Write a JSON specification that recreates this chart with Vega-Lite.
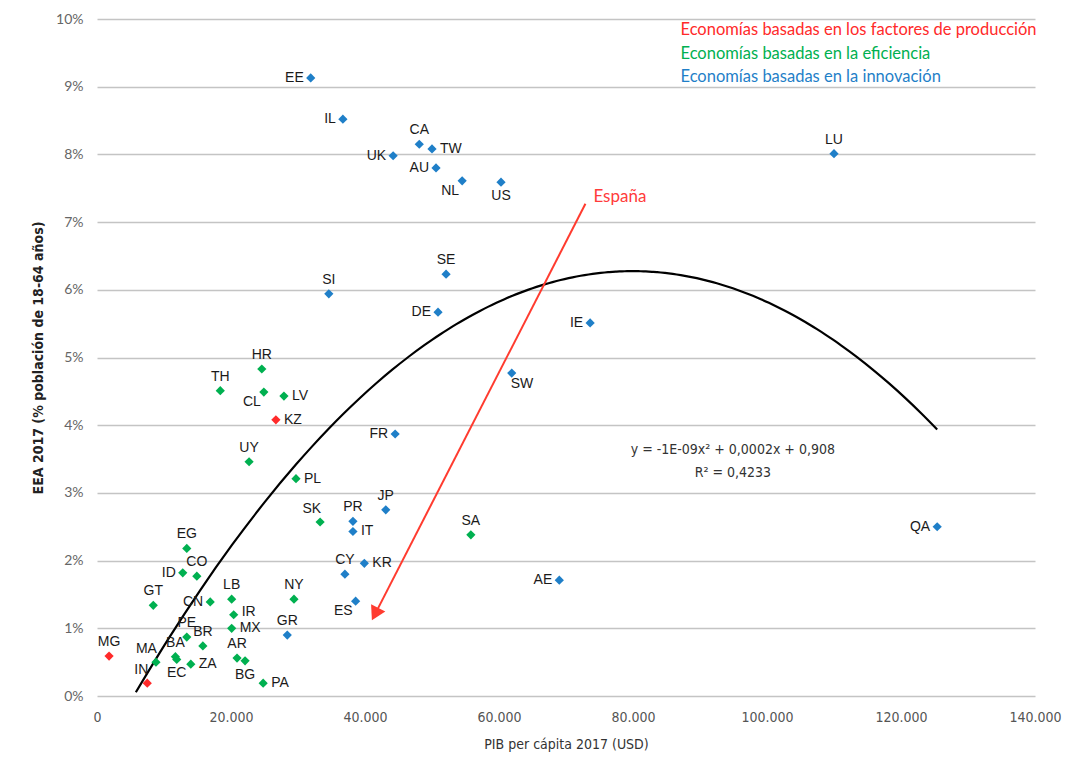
{
  "$schema": "https://vega.github.io/schema/vega-lite/v6.json",
  "width": 938,
  "height": 677,
  "autosize": {"type": "none"},
  "padding": {"left": 97, "top": 19, "right": 45, "bottom": 67},
  "background": "white",
  "config": {"view": {"stroke": null}},
  "datasets": {
    "paises": [
      {"c": "EE", "g": "Economías basadas en la innovación", "pib": 31900, "eea": 9.13, "pos": "l"},
      {"c": "IL", "g": "Economías basadas en la innovación", "pib": 36700, "eea": 8.52, "pos": "l"},
      {"c": "CA", "g": "Economías basadas en la innovación", "pib": 48100, "eea": 8.15, "pos": "t"},
      {"c": "TW", "g": "Economías basadas en la innovación", "pib": 50000, "eea": 8.08, "pos": "r"},
      {"c": "UK", "g": "Economías basadas en la innovación", "pib": 44200, "eea": 7.98, "pos": "l"},
      {"c": "AU", "g": "Economías basadas en la innovación", "pib": 50600, "eea": 7.80, "pos": "l"},
      {"c": "NL", "g": "Economías basadas en la innovación", "pib": 54500, "eea": 7.61, "pos": "bl"},
      {"c": "US", "g": "Economías basadas en la innovación", "pib": 60300, "eea": 7.59, "pos": "b"},
      {"c": "LU", "g": "Economías basadas en la innovación", "pib": 110000, "eea": 8.01, "pos": "t"},
      {"c": "SE", "g": "Economías basadas en la innovación", "pib": 52100, "eea": 6.23, "pos": "t"},
      {"c": "SI", "g": "Economías basadas en la innovación", "pib": 34600, "eea": 5.94, "pos": "t"},
      {"c": "DE", "g": "Economías basadas en la innovación", "pib": 50900, "eea": 5.67, "pos": "l"},
      {"c": "IE", "g": "Economías basadas en la innovación", "pib": 73600, "eea": 5.51, "pos": "l"},
      {"c": "SW", "g": "Economías basadas en la innovación", "pib": 61900, "eea": 4.77, "pos": "br"},
      {"c": "FR", "g": "Economías basadas en la innovación", "pib": 44500, "eea": 3.87, "pos": "l"},
      {"c": "JP", "g": "Economías basadas en la innovación", "pib": 43100, "eea": 2.75, "pos": "t"},
      {"c": "PR", "g": "Economías basadas en la innovación", "pib": 38200, "eea": 2.58, "pos": "t"},
      {"c": "IT", "g": "Economías basadas en la innovación", "pib": 38200, "eea": 2.43, "pos": "r"},
      {"c": "CY", "g": "Economías basadas en la innovación", "pib": 37000, "eea": 1.80, "pos": "t"},
      {"c": "KR", "g": "Economías basadas en la innovación", "pib": 39900, "eea": 1.96, "pos": "r"},
      {"c": "ES", "g": "Economías basadas en la innovación", "pib": 38600, "eea": 1.40, "pos": "bl"},
      {"c": "GR", "g": "Economías basadas en la innovación", "pib": 28400, "eea": 0.90, "pos": "t"},
      {"c": "AE", "g": "Economías basadas en la innovación", "pib": 69000, "eea": 1.71, "pos": "l"},
      {"c": "QA", "g": "Economías basadas en la innovación", "pib": 125400, "eea": 2.50, "pos": "l"},
      {"c": "HR", "g": "Economías basadas en la eficiencia", "pib": 24600, "eea": 4.83, "pos": "t"},
      {"c": "TH", "g": "Economías basadas en la eficiencia", "pib": 18400, "eea": 4.51, "pos": "t"},
      {"c": "CL", "g": "Economías basadas en la eficiencia", "pib": 24900, "eea": 4.49, "pos": "bl"},
      {"c": "LV", "g": "Economías basadas en la eficiencia", "pib": 27900, "eea": 4.43, "pos": "r"},
      {"c": "UY", "g": "Economías basadas en la eficiencia", "pib": 22700, "eea": 3.46, "pos": "t"},
      {"c": "PL", "g": "Economías basadas en la eficiencia", "pib": 29700, "eea": 3.21, "pos": "r"},
      {"c": "SK", "g": "Economías basadas en la eficiencia", "pib": 33300, "eea": 2.57, "pos": "tl"},
      {"c": "SA", "g": "Economías basadas en la eficiencia", "pib": 55800, "eea": 2.38, "pos": "t"},
      {"c": "EG", "g": "Economías basadas en la eficiencia", "pib": 13400, "eea": 2.18, "pos": "t"},
      {"c": "ID", "g": "Economías basadas en la eficiencia", "pib": 12800, "eea": 1.82, "pos": "l"},
      {"c": "CO", "g": "Economías basadas en la eficiencia", "pib": 14900, "eea": 1.77, "pos": "t"},
      {"c": "GT", "g": "Economías basadas en la eficiencia", "pib": 8400, "eea": 1.34, "pos": "t"},
      {"c": "CN", "g": "Economías basadas en la eficiencia", "pib": 16900, "eea": 1.39, "pos": "l"},
      {"c": "LB", "g": "Economías basadas en la eficiencia", "pib": 20100, "eea": 1.43, "pos": "t"},
      {"c": "NY", "g": "Economías basadas en la eficiencia", "pib": 29400, "eea": 1.43, "pos": "t"},
      {"c": "IR", "g": "Economías basadas en la eficiencia", "pib": 20400, "eea": 1.20, "pos": "ru"},
      {"c": "MX", "g": "Economías basadas en la eficiencia", "pib": 20100, "eea": 1.00, "pos": "r"},
      {"c": "PE", "g": "Economías basadas en la eficiencia", "pib": 13400, "eea": 0.87, "pos": "t"},
      {"c": "BR", "g": "Economías basadas en la eficiencia", "pib": 15800, "eea": 0.74, "pos": "t"},
      {"c": "MA", "g": "Economías basadas en la eficiencia", "pib": 8800, "eea": 0.50, "pos": "tl"},
      {"c": "BA", "g": "Economías basadas en la eficiencia", "pib": 11700, "eea": 0.58, "pos": "t"},
      {"c": "EC", "g": "Economías basadas en la eficiencia", "pib": 11900, "eea": 0.54, "pos": "b"},
      {"c": "ZA", "g": "Economías basadas en la eficiencia", "pib": 14000, "eea": 0.47, "pos": "r"},
      {"c": "AR", "g": "Economías basadas en la eficiencia", "pib": 20900, "eea": 0.56, "pos": "t"},
      {"c": "BG", "g": "Economías basadas en la eficiencia", "pib": 22100, "eea": 0.52, "pos": "b"},
      {"c": "PA", "g": "Economías basadas en la eficiencia", "pib": 24800, "eea": 0.19, "pos": "r"},
      {"c": "MG", "g": "Economías basadas en los factores de producción", "pib": 1800, "eea": 0.59, "pos": "t"},
      {"c": "IN", "g": "Economías basadas en los factores de producción", "pib": 7500, "eea": 0.19, "pos": "tl"},
      {"c": "KZ", "g": "Economías basadas en los factores de producción", "pib": 26700, "eea": 4.08, "pos": "r"}
    ],
    "flecha": [
      {"x0": 72900, "y0": 7.27, "x1": 41500, "y1": 1.21, "t": "España"}
    ],
    "ecuacion": [
      {"x": 94900, "y": 3.63, "t": "y = -1E-09x² + 0,0002x + 0,908\nR² = 0,4233"}
    ]
  },
  "layer": [
    {
      "data": {"name": "paises"},
      "transform": [
        {"regression": "eea", "on": "pib", "method": "poly", "order": 2, "extent": [5800, 125400]}
      ],
      "mark": {"type": "line", "color": "#000000", "strokeWidth": 2.2, "interpolate": "monotone"},
      "encoding": {
        "x": {
          "field": "pib", "type": "quantitative",
          "scale": {"domain": [0, 140000], "nice": false, "zero": true},
          "axis": {
            "values": [0, 20000, 40000, 60000, 80000, 100000, 120000, 140000],
            "labelExpr": "replace(format(datum.value, ','), ',', '.')",
            "labelFlush": false,
            "grid": false, "domain": false, "ticks": false,
            "labelFont": "DejaVu Sans Condensed, Liberation Sans, sans-serif", "labelFontSize": 14, "labelColor": "#555555",
            "labelPadding": 14,
            "title": "PIB per cápita 2017 (USD)",
            "titleFont": "DejaVu Sans Condensed, Liberation Sans, sans-serif", "titleFontSize": 14, "titleFontWeight": "normal",
            "titleColor": "#333333", "titlePadding": 13
          }
        },
        "y": {
          "field": "eea", "type": "quantitative",
          "scale": {"domain": [0, 10], "nice": false, "zero": true},
          "axis": {
            "values": [0, 1, 2, 3, 4, 5, 6, 7, 8, 9, 10],
            "labelExpr": "datum.value + '%'",
            "grid": true, "gridColor": "#c4c4c4", "gridWidth": 1.5,
            "domain": false, "ticks": false,
            "labelFont": "Lato", "labelFontSize": 14, "labelColor": "#666666",
            "labelPadding": 14,
            "title": "EEA 2017 (% población de 18-64 años)",
            "titleFont": "DejaVu Sans Condensed, Liberation Sans, sans-serif", "titleFontSize": 14, "titleFontWeight": "bold",
            "titleColor": "#222222", "titlePadding": 10
          }
        }
      }
    },
    {
      "data": {"name": "ecuacion"},
      "mark": {"type": "text", "align": "center", "baseline": "middle", "lineBreak": "\n", "lineHeight": 23, "font": "DejaVu Sans Condensed, Liberation Sans, sans-serif", "fontSize": 14, "color": "#333333"},
      "encoding": {
        "x": {"field": "x", "type": "quantitative"},
        "y": {"field": "y", "type": "quantitative"},
        "text": {"field": "t"}
      }
    },
    {
      "data": {"name": "flecha"},
      "mark": {"type": "rule", "color": "#ff3b2f", "strokeWidth": 2},
      "encoding": {
        "x": {"field": "x0", "type": "quantitative"},
        "y": {"field": "y0", "type": "quantitative"},
        "x2": {"field": "x1"},
        "y2": {"field": "y1"}
      }
    },
    {
      "data": {"name": "flecha"},
      "mark": {"type": "point", "shape": "triangle-up", "angle": 207, "size": 256, "filled": true, "opacity": 1, "color": "#ff3b2f"},
      "encoding": {
        "x": {"field": "x1", "type": "quantitative"},
        "y": {"field": "y1", "type": "quantitative"}
      }
    },
    {
      "data": {"name": "flecha"},
      "mark": {"type": "text", "align": "left", "baseline": "middle", "dx": 8, "dy": -7, "font": "Lato", "fontSize": 17, "color": "#ff3b3b"},
      "encoding": {
        "x": {"field": "x0", "type": "quantitative"},
        "y": {"field": "y0", "type": "quantitative"},
        "text": {"field": "t"}
      }
    },
    {
      "data": {"name": "paises"},
      "mark": {"type": "point", "shape": "diamond", "filled": true, "opacity": 1, "size": 85},
      "encoding": {
        "x": {"field": "pib", "type": "quantitative"},
        "y": {"field": "eea", "type": "quantitative"},
        "color": {
          "field": "g", "type": "nominal",
          "scale": {
            "domain": ["Economías basadas en los factores de producción", "Economías basadas en la eficiencia", "Economías basadas en la innovación"],
            "range": ["#ff2a2a", "#00b050", "#1f7fc8"]
          },
          "legend": {
            "orient": "none", "legendX": 567, "legendY": 3, "title": null,
            "symbolSize": 0, "symbolStrokeWidth": 0, "symbolOpacity": 0,
            "labelOffset": 0, "padding": 0, "rowPadding": 6.5,
            "labelFont": "Lato", "labelFontSize": 16.5, "labelLimit": 0,
            "encode": {"labels": {"update": {"fill": {"scale": "color", "field": "value"}}}}
          }
        }
      }
    },
    {
      "data": {"name": "paises"},
      "transform": [{"filter": "datum.pos == 'l'"}],
      "mark": {"type": "text", "align": "right", "baseline": "middle", "dx": -7, "font": "Liberation Sans", "fontSize": 14, "color": "#1a1a1a"},
      "encoding": {"x": {"field": "pib", "type": "quantitative"}, "y": {"field": "eea", "type": "quantitative"}, "text": {"field": "c"}}
    },
    {
      "data": {"name": "paises"},
      "transform": [{"filter": "datum.pos == 'r'"}],
      "mark": {"type": "text", "align": "left", "baseline": "middle", "dx": 8, "font": "Liberation Sans", "fontSize": 14, "color": "#1a1a1a"},
      "encoding": {"x": {"field": "pib", "type": "quantitative"}, "y": {"field": "eea", "type": "quantitative"}, "text": {"field": "c"}}
    },
    {
      "data": {"name": "paises"},
      "transform": [{"filter": "datum.pos == 'ru'"}],
      "mark": {"type": "text", "align": "left", "baseline": "middle", "dx": 8, "dy": -3, "font": "Liberation Sans", "fontSize": 14, "color": "#1a1a1a"},
      "encoding": {"x": {"field": "pib", "type": "quantitative"}, "y": {"field": "eea", "type": "quantitative"}, "text": {"field": "c"}}
    },
    {
      "data": {"name": "paises"},
      "transform": [{"filter": "datum.pos == 't'"}],
      "mark": {"type": "text", "align": "center", "baseline": "alphabetic", "dy": -10, "font": "Liberation Sans", "fontSize": 14, "color": "#1a1a1a"},
      "encoding": {"x": {"field": "pib", "type": "quantitative"}, "y": {"field": "eea", "type": "quantitative"}, "text": {"field": "c"}}
    },
    {
      "data": {"name": "paises"},
      "transform": [{"filter": "datum.pos == 'b'"}],
      "mark": {"type": "text", "align": "center", "baseline": "top", "dy": 7, "font": "Liberation Sans", "fontSize": 14, "color": "#1a1a1a"},
      "encoding": {"x": {"field": "pib", "type": "quantitative"}, "y": {"field": "eea", "type": "quantitative"}, "text": {"field": "c"}}
    },
    {
      "data": {"name": "paises"},
      "transform": [{"filter": "datum.pos == 'bl'"}],
      "mark": {"type": "text", "align": "right", "baseline": "middle", "dx": -3, "dy": 10, "font": "Liberation Sans", "fontSize": 14, "color": "#1a1a1a"},
      "encoding": {"x": {"field": "pib", "type": "quantitative"}, "y": {"field": "eea", "type": "quantitative"}, "text": {"field": "c"}}
    },
    {
      "data": {"name": "paises"},
      "transform": [{"filter": "datum.pos == 'br'"}],
      "mark": {"type": "text", "align": "left", "baseline": "middle", "dx": -1, "dy": 11, "font": "Liberation Sans", "fontSize": 14, "color": "#1a1a1a"},
      "encoding": {"x": {"field": "pib", "type": "quantitative"}, "y": {"field": "eea", "type": "quantitative"}, "text": {"field": "c"}}
    },
    {
      "data": {"name": "paises"},
      "transform": [{"filter": "datum.pos == 'tl'"}],
      "mark": {"type": "text", "align": "right", "baseline": "middle", "dx": 1, "dy": -13, "font": "Liberation Sans", "fontSize": 14, "color": "#1a1a1a"},
      "encoding": {"x": {"field": "pib", "type": "quantitative"}, "y": {"field": "eea", "type": "quantitative"}, "text": {"field": "c"}}
    }
  ]
}
